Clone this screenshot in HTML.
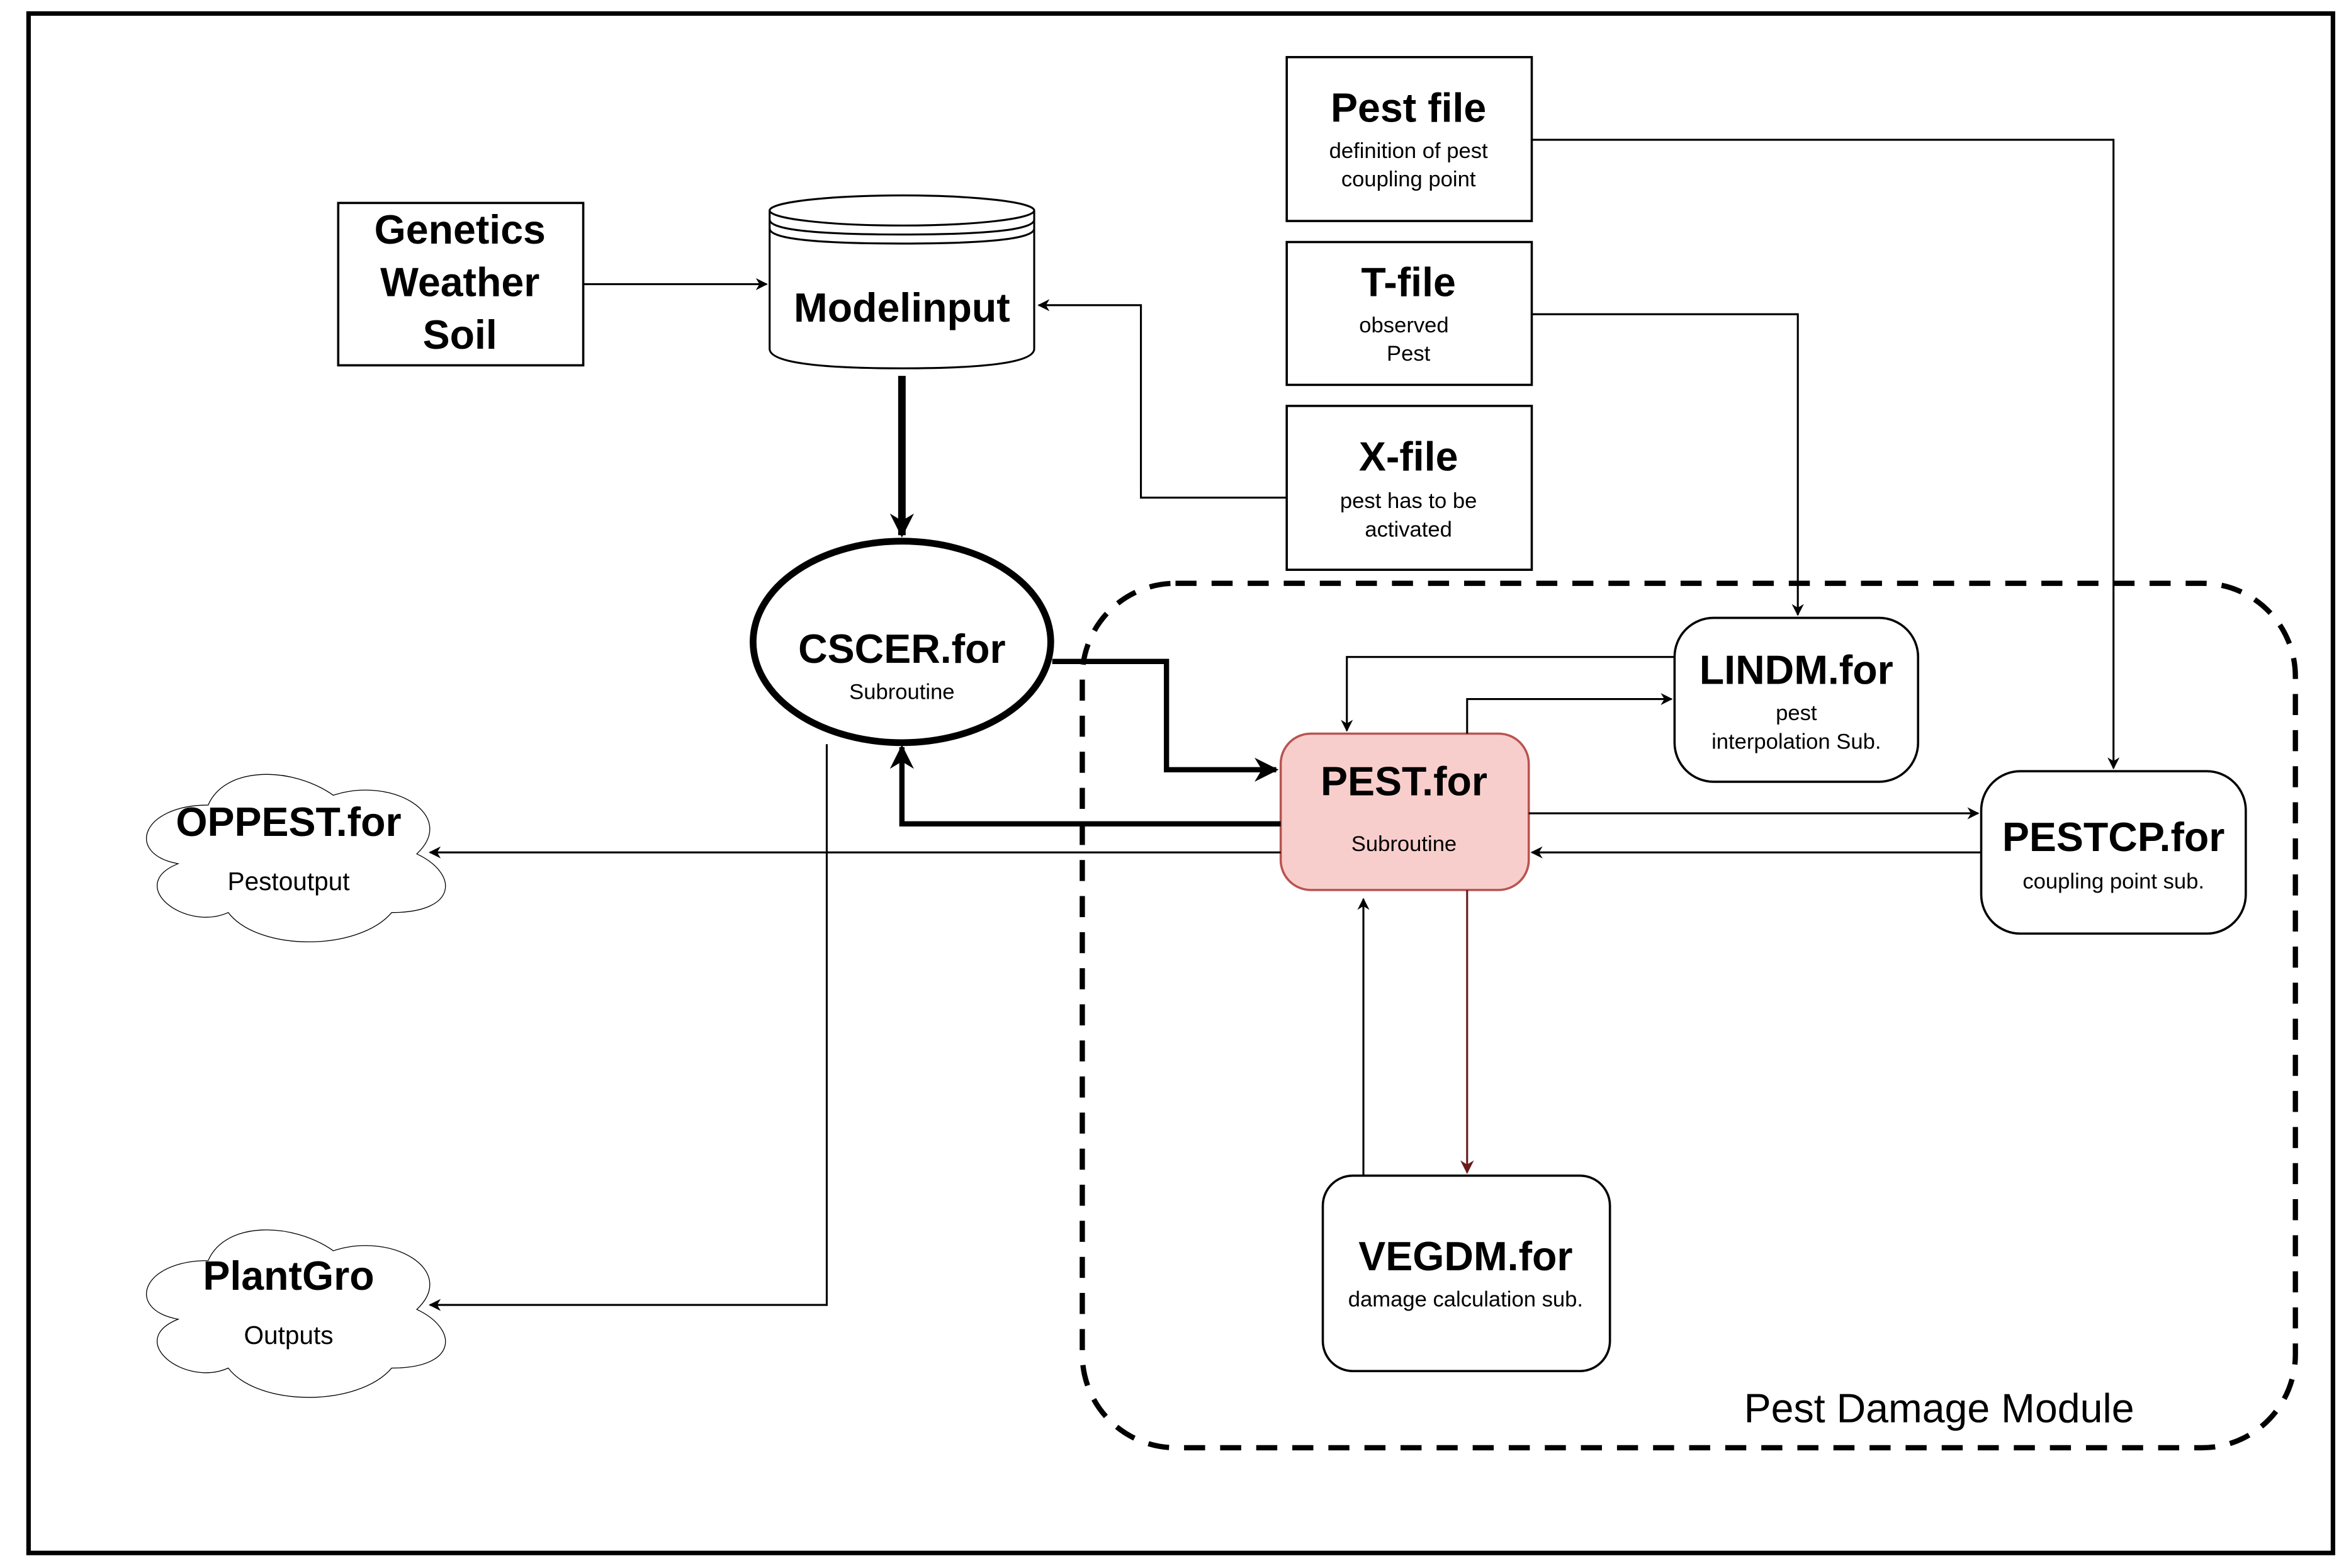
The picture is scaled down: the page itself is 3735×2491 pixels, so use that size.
<!DOCTYPE html>
<html><head><meta charset="utf-8"><style>
html,body{margin:0;padding:0;background:#fff;}
svg{display:block;}
text{font-family:"Liberation Sans",Arial,sans-serif;}
.b{font-weight:bold;font-size:27px;text-anchor:middle;}
.s{font-size:14.5px;text-anchor:middle;}
.ln{fill:none;stroke:#000;stroke-width:1.3;}
</style></head><body>
<svg width="3735" height="2491" viewBox="0 0 1564 1043" preserveAspectRatio="none" xmlns="http://www.w3.org/2000/svg">
<defs>
<marker id="a" viewBox="0 0 10 10" refX="9" refY="5" markerWidth="8" markerHeight="8" markerUnits="userSpaceOnUse" orient="auto"><path d="M0,0 L10,5 L0,10 L3,5 Z" fill="#000"/></marker>
<marker id="ab" viewBox="0 0 10 10" refX="9" refY="5" markerWidth="16" markerHeight="16" markerUnits="userSpaceOnUse" orient="auto"><path d="M0,0 L10,5 L0,10 L3,5 Z" fill="#000"/></marker>
<marker id="ar" viewBox="0 0 10 10" refX="9" refY="5" markerWidth="9" markerHeight="9" markerUnits="userSpaceOnUse" orient="auto"><path d="M0,0 L10,5 L0,10 L3,5 Z" fill="#6b1b1b"/></marker>
</defs>
<rect x="0" y="0" width="1564" height="1043" fill="#fff"/>
<rect x="19" y="9" width="1533" height="1024" fill="none" stroke="#000" stroke-width="3"/>

<rect x="720" y="388" width="807" height="575" rx="62" ry="62" fill="none" stroke="#000" stroke-width="3.5" stroke-dasharray="14,10"/>
<text x="1290" y="946" font-size="27" text-anchor="middle">Pest Damage Module</text>

<rect x="225" y="135" width="163" height="108" fill="#fff" stroke="#000" stroke-width="1.5"/>
<text class="b" x="306" y="162">Genetics</text>
<text class="b" x="306" y="197">Weather</text>
<text class="b" x="306" y="232">Soil</text>

<path d="M512,140 L512,232 Q512,245 600,245 Q688,245 688,232 L688,140" fill="#fff" stroke="#000" stroke-width="1.3"/>
<ellipse cx="600" cy="140" rx="88" ry="10" fill="#fff" stroke="#000" stroke-width="1.3"/>
<path d="M512,146 Q512,156 600,156 Q688,156 688,146 M512,152 Q512,162 600,162 Q688,162 688,152" fill="none" stroke="#000" stroke-width="1.3"/>
<text class="b" x="600" y="214">Modelinput</text>

<rect x="856" y="38" width="163" height="109" fill="#fff" stroke="#000" stroke-width="1.5"/>
<text class="b" x="937" y="81">Pest file</text>
<text class="s" x="937" y="105">definition of pest</text>
<text class="s" x="937" y="124">coupling point</text>
<rect x="856" y="161" width="163" height="95" fill="#fff" stroke="#000" stroke-width="1.5"/>
<text class="b" x="937" y="197">T-file</text>
<text class="s" x="934" y="221">observed</text>
<text class="s" x="937" y="240">Pest</text>
<rect x="856" y="270" width="163" height="109" fill="#fff" stroke="#000" stroke-width="1.5"/>
<text class="b" x="937" y="313">X-file</text>
<text class="s" x="937" y="338">pest has to be</text>
<text class="s" x="937" y="357">activated</text>

<ellipse cx="600" cy="427" rx="99" ry="67" fill="#fff" stroke="#000" stroke-width="4.5"/>
<text class="b" x="600" y="441">CSCER.for</text>
<text class="s" x="600" y="465">Subroutine</text>

<rect x="1114" y="411" width="162" height="109" rx="26" fill="#fff" stroke="#000" stroke-width="1.5"/>
<text class="b" x="1195" y="455">LINDM.for</text>
<text class="s" x="1195" y="479">pest</text>
<text class="s" x="1195" y="498">interpolation Sub.</text>

<rect x="852" y="488" width="165" height="104" rx="20" fill="#f8cecc" stroke="#b85450" stroke-width="1.5"/>
<text class="b" x="934" y="529">PEST.for</text>
<text class="s" x="934" y="566">Subroutine</text>

<rect x="1318" y="513" width="176" height="108" rx="26" fill="#fff" stroke="#000" stroke-width="1.5"/>
<text class="b" x="1406" y="566">PESTCP.for</text>
<text class="s" x="1406" y="591">coupling point sub.</text>

<rect x="880" y="782" width="191" height="130" rx="20" fill="#fff" stroke="#000" stroke-width="1.5"/>
<text class="b" x="975" y="845">VEGDM.for</text>
<text class="s" x="975" y="869">damage calculation sub.</text>

<g transform="translate(83,503) scale(222,130)">
<path d="M0.25,0.25 C0.05,0.25 0,0.5 0.16,0.55 C0,0.66 0.18,0.9 0.31,0.8 C0.4,1 0.7,1 0.8,0.8 C1,0.8 1,0.6 0.875,0.5 C1,0.3 0.8,0.1 0.625,0.2 C0.5,0.05 0.3,0.05 0.25,0.25 Z" fill="#fff" stroke="#000" stroke-width="1.3" vector-effect="non-scaling-stroke"/>
</g>
<text class="b" x="192" y="556">OPPEST.for</text>
<text font-size="17" text-anchor="middle" x="192" y="592">Pestoutput</text>
<g transform="translate(83,806) scale(222,130)">
<path d="M0.25,0.25 C0.05,0.25 0,0.5 0.16,0.55 C0,0.66 0.18,0.9 0.31,0.8 C0.4,1 0.7,1 0.8,0.8 C1,0.8 1,0.6 0.875,0.5 C1,0.3 0.8,0.1 0.625,0.2 C0.5,0.05 0.3,0.05 0.25,0.25 Z" fill="#fff" stroke="#000" stroke-width="1.3" vector-effect="non-scaling-stroke"/>
</g>
<text class="b" x="192" y="858">PlantGro</text>
<text font-size="17" text-anchor="middle" x="192" y="894">Outputs</text>

<path class="ln" d="M388,189 L510,189" marker-end="url(#a)"/>
<path d="M600,250 L600,356" fill="none" stroke="#000" stroke-width="5" marker-end="url(#ab)"/>
<path class="ln" d="M856,331 L759,331 L759,203 L691,203" marker-end="url(#a)"/>
<path class="ln" d="M1019,209 L1196,209 L1196,409" marker-end="url(#a)"/>
<path class="ln" d="M1019,93 L1406,93 L1406,511" marker-end="url(#a)"/>
<path d="M700,440 L776,440 L776,512 L849,512" fill="none" stroke="#000" stroke-width="3.5" marker-end="url(#ab)"/>
<path d="M852,548 L600,548 L600,497" fill="none" stroke="#000" stroke-width="3.5" marker-end="url(#ab)"/>
<path class="ln" d="M852,567 L286,567" marker-end="url(#a)"/>
<path class="ln" d="M550,495 L550,868 L286,868" marker-end="url(#a)"/>
<path class="ln" d="M1114,437 L896,437 L896,486" marker-end="url(#a)"/>
<path class="ln" d="M976,488 L976,465 L1112,465" marker-end="url(#a)"/>
<path class="ln" d="M1017,541 L1316,541" marker-end="url(#a)"/>
<path class="ln" d="M1318,567 L1019,567" marker-end="url(#a)"/>
<path d="M976,592 L976,780" fill="none" stroke="#6b1b1b" stroke-width="1.3" marker-end="url(#ar)"/>
<path class="ln" d="M907,782 L907,598" marker-end="url(#a)"/>
</svg>
</body></html>
